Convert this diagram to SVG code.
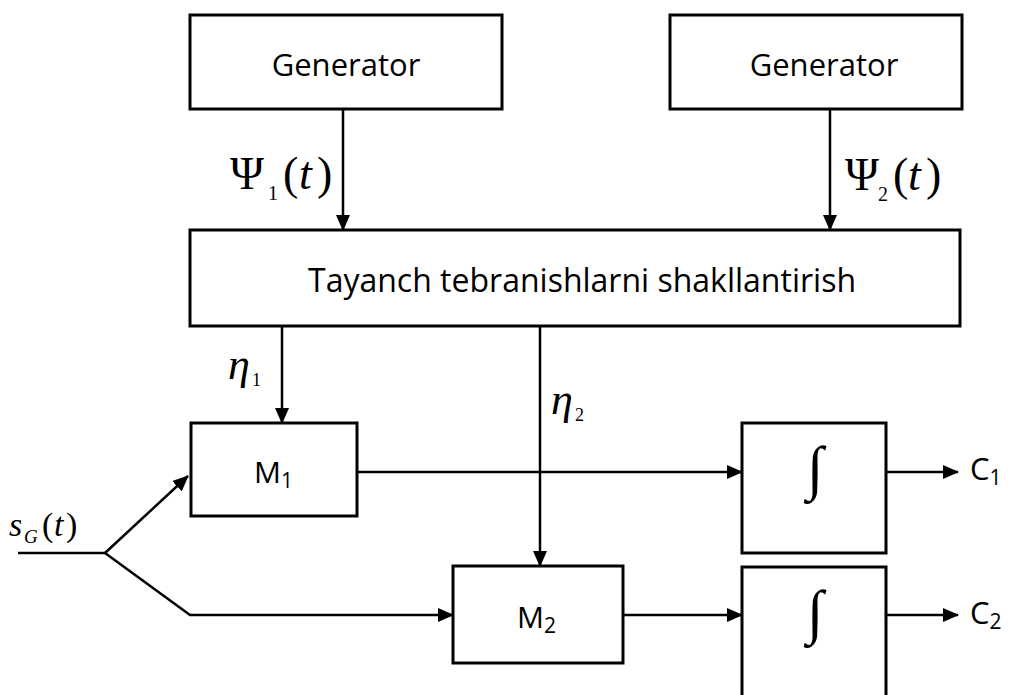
<svg xmlns="http://www.w3.org/2000/svg" width="1009" height="695" viewBox="0 0 1009 695">
<style>
.box{fill:#fff;stroke:#000;stroke-width:3}
.ln{fill:none;stroke:#000;stroke-width:2.5}
.t{font-family:"Open Sans","Noto Sans",sans-serif;fill:#000}
.m{font-family:"Liberation Serif",serif;fill:#000}
.i{font-style:italic}
</style>
<defs>
<marker id="a" markerWidth="16" markerHeight="14" refX="15" refY="7" orient="auto" markerUnits="userSpaceOnUse">
<path d="M0,0 L16,7 L0,14 Z" fill="#000"/>
</marker>
</defs>
<g id="gen1"><rect class="box" x="190" y="15" width="312" height="94"/><text class="t" x="346" y="76" font-size="31" text-anchor="middle">Generator</text></g>
<g id="gen2"><rect class="box" x="670" y="15" width="292" height="94"/><text class="t" x="824" y="76" font-size="31" text-anchor="middle">Generator</text></g>
<g id="former"><rect class="box" x="190" y="230" width="770" height="96"/><text class="t" x="582" y="292" font-size="32" text-anchor="middle">Tayanch tebranishlarni shakllantirish</text></g>
<g id="m1"><rect class="box" x="191" y="423" width="166" height="93"/><text class="t" x="254" y="483" font-size="30">M<tspan font-size="21" dy="5">1</tspan></text></g>
<g id="m2"><rect class="box" x="453" y="566" width="170" height="97"/><text class="t" x="517" y="628" font-size="30">M<tspan font-size="21" dy="5">2</tspan></text></g>
<g id="int1"><rect class="box" x="742" y="423" width="144" height="130"/><text class="m" x="815" y="488" font-size="60" text-anchor="middle">∫</text></g>
<g id="int2"><rect class="box" x="742" y="567" width="144" height="140"/><text class="m" x="815" y="632" font-size="60" text-anchor="middle">∫</text></g>
<g id="connectors">
<line class="ln" x1="343" y1="109" x2="343" y2="230" marker-end="url(#a)"/>
<line class="ln" x1="830" y1="109" x2="830" y2="230" marker-end="url(#a)"/>
<line class="ln" x1="282" y1="326" x2="282" y2="423" marker-end="url(#a)"/>
<line class="ln" x1="540" y1="326" x2="540" y2="566" marker-end="url(#a)"/>
<line class="ln" x1="357" y1="472" x2="742" y2="472" marker-end="url(#a)"/>
<line class="ln" x1="623" y1="615" x2="742" y2="615" marker-end="url(#a)"/>
<line class="ln" x1="886" y1="472" x2="958" y2="472" marker-end="url(#a)"/>
<line class="ln" x1="886" y1="615" x2="958" y2="615" marker-end="url(#a)"/>
<line class="ln" x1="18" y1="553" x2="105" y2="553"/>
<line class="ln" x1="105" y1="553" x2="188" y2="476" marker-end="url(#a)"/>
<polyline class="ln" points="105,553 190,615 453,615" marker-end="url(#a)"/>
</g>
<g id="labels">
<text class="m" x="230" y="189" font-size="46">Ψ</text><text class="m" x="268" y="200" font-size="20">1</text><text class="m" x="283" y="189" font-size="46">(</text><text class="m i" x="299" y="189" font-size="46">t</text><text class="m" x="317" y="189" font-size="46">)</text>
<text class="m" x="845" y="190" font-size="46">Ψ</text><text class="m" x="878" y="201" font-size="20">2</text><text class="m" x="893" y="190" font-size="46">(</text><text class="m i" x="908" y="190" font-size="46">t</text><text class="m" x="926" y="190" font-size="46">)</text>
<text class="m i" x="228" y="379" font-size="44">η</text><text class="m" x="252" y="386" font-size="18">1</text>
<text class="m i" x="551" y="414" font-size="44">η</text><text class="m" x="575" y="421" font-size="18">2</text>
<text class="m i" x="9" y="536" font-size="34">s</text><text class="m i" x="24" y="543" font-size="19">G</text><text class="m" x="42" y="536" font-size="34">(</text><text class="m i" x="54" y="536" font-size="34">t</text><text class="m" x="66" y="536" font-size="34">)</text>
<text class="t" x="970" y="480" font-size="31">C<tspan font-size="21" dy="5">1</tspan></text>
<text class="t" x="970" y="624" font-size="31">C<tspan font-size="21" dy="5">2</tspan></text>
</g>
</svg>
